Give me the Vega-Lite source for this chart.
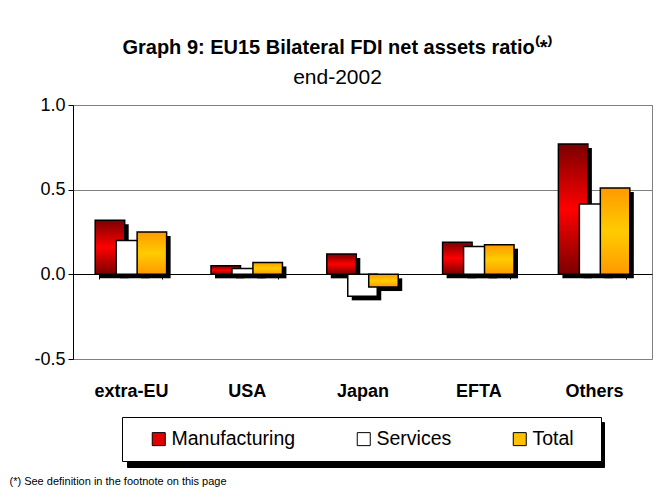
{
  "$schema": "https://vega.github.io/schema/vega-lite/v6.json",
  "width": 579,
  "height": 254,
  "autosize": "none",
  "padding": {"left": 73, "top": 105, "right": 6, "bottom": 138},
  "background": "white",
  "config": {
    "font": "Liberation Sans",
    "view": {"stroke": "#808080", "strokeWidth": 1}
  },
  "title": {
    "text": "Graph 9: EU15 Bilateral FDI net assets ratio⁽*⁾",
    "subtitle": "end-2002",
    "fontSize": 20,
    "fontWeight": "bold",
    "color": "black",
    "subtitleFontSize": 21,
    "subtitleFontWeight": "normal",
    "subtitleColor": "black",
    "subtitlePadding": 9,
    "anchor": "middle",
    "dx": -25,
    "offset": 8
  },
  "data": {
    "values": [
      {"region": "extra-EU", "series": "Manufacturing", "value": 0.32},
      {"region": "extra-EU", "series": "Services", "value": 0.20},
      {"region": "extra-EU", "series": "Total", "value": 0.25},
      {"region": "USA", "series": "Manufacturing", "value": 0.05},
      {"region": "USA", "series": "Services", "value": 0.035},
      {"region": "USA", "series": "Total", "value": 0.07},
      {"region": "Japan", "series": "Manufacturing", "value": 0.12},
      {"region": "Japan", "series": "Services", "value": -0.13},
      {"region": "Japan", "series": "Total", "value": -0.075},
      {"region": "EFTA", "series": "Manufacturing", "value": 0.19},
      {"region": "EFTA", "series": "Services", "value": 0.165},
      {"region": "EFTA", "series": "Total", "value": 0.175},
      {"region": "Others", "series": "Manufacturing", "value": 0.77},
      {"region": "Others", "series": "Services", "value": 0.415},
      {"region": "Others", "series": "Total", "value": 0.51}
    ]
  },
  "encoding": {
    "x": {
      "field": "region",
      "type": "nominal",
      "sort": ["extra-EU", "USA", "Japan", "EFTA", "Others"],
      "scale": {"paddingInner": 0.457, "paddingOuter": 0.2285},
      "axis": {
        "orient": "bottom",
        "offset": -85,
        "domainColor": "black",
        "domainWidth": 1,
        "tickColor": "black",
        "tickSize": 5,
        "tickBand": "extent",
        "labelFontSize": 18,
        "labelFontWeight": "bold",
        "labelColor": "black",
        "labelAngle": 0,
        "labelBaseline": "middle",
        "labelPadding": 112,
        "grid": false,
        "title": "(*) See definition in the footnote on this page",
        "titleFontSize": 11,
        "titleFontWeight": "normal",
        "titleColor": "black",
        "titleAnchor": "start",
        "titleAlign": "left",
        "titleBaseline": "middle",
        "titleX": -64,
        "titleY": 207
      }
    },
    "y": {
      "field": "value",
      "type": "quantitative",
      "scale": {"domain": [-0.5, 1.0], "nice": false, "zero": false},
      "axis": {
        "title": null,
        "values": [-0.5, 0, 0.5, 1.0],
        "labelExpr": "replace(format(datum.value, '.1f'), '−', '-')",
        "grid": true,
        "gridColor": "#808080",
        "gridWidth": 1,
        "domainColor": "black",
        "tickColor": "black",
        "tickSize": 5,
        "labelFontSize": 18,
        "labelColor": "black",
        "labelPadding": 3
      }
    }
  },
  "layer": [
    {
      "mark": {
        "type": "bar",
        "width": 29.5,
        "yOffset": 4,
        "y2Offset": 4
      },
      "encoding": {
        "xOffset": {
          "field": "series",
          "type": "nominal",
          "sort": ["Manufacturing", "Services", "Total"],
          "scale": {"paddingInner": 0, "paddingOuter": 0, "range": [4, 66.9]}
        },
        "color": {
          "field": "series",
          "type": "nominal",
          "scale": {
            "domain": ["Total", "Services", "Manufacturing"],
            "range": ["black", "black", "black"]
          },
          "legend": {
            "orient": "none",
            "legendX": 54,
            "legendY": 317,
            "direction": "horizontal",
            "title": null,
            "labelExpr": "''",
            "strokeColor": "black",
            "fillColor": "black",
            "padding": 12,
            "symbolType": "square",
            "symbolSize": 441,
            "symbolStrokeColor": "black",
            "symbolStrokeWidth": 0,
            "symbolOffset": 15,
            "labelOffset": 3,
            "columnPadding": 168
          }
        }
      }
    },
    {
      "mark": {"type": "bar", "stroke": "black", "strokeWidth": 1.5, "width": 29.5},
      "encoding": {
        "xOffset": {
          "field": "series",
          "type": "nominal",
          "sort": ["Manufacturing", "Services", "Total"],
          "scale": {"paddingInner": 0, "paddingOuter": 0, "range": [0, 62.9]}
        },
        "fill": {
          "field": "series",
          "type": "nominal",
          "scale": {
            "domain": ["Manufacturing", "Services", "Total"],
            "range": ["#e00000", "#ffffff", "#ffc000"]
          },
          "condition": [
            {
              "test": "datum.series === 'Manufacturing'",
              "value": {
                "gradient": "linear", "x1": 0, "y1": 0, "x2": 0, "y2": 1,
                "stops": [
                  {"offset": 0, "color": "#7a0000"},
                  {"offset": 0.5, "color": "#ff0000"},
                  {"offset": 1, "color": "#7a0000"}
                ]
              }
            },
            {
              "test": "datum.series === 'Total'",
              "value": {
                "gradient": "linear", "x1": 0, "y1": 0, "x2": 0, "y2": 1,
                "stops": [
                  {"offset": 0, "color": "#ff9900"},
                  {"offset": 0.5, "color": "#ffcc00"},
                  {"offset": 1, "color": "#ff9900"}
                ]
              }
            }
          ],
          "legend": {
            "orient": "none",
            "legendX": 49,
            "legendY": 312,
            "direction": "horizontal",
            "title": " ",
            "titleOrient": "right",
            "titleFontSize": 1,
            "titlePadding": 15,
            "strokeColor": "black",
            "fillColor": "white",
            "padding": 12,
            "symbolType": "square",
            "symbolSize": 169,
            "symbolStrokeColor": "black",
            "symbolStrokeWidth": 1,
            "symbolOffset": 15,
            "labelFontSize": 19.5,
            "labelColor": "black",
            "labelOffset": 3,
            "columnPadding": 43
          }
        }
      }
    }
  ],
  "resolve": {"scale": {"xOffset": "independent"}}
}
